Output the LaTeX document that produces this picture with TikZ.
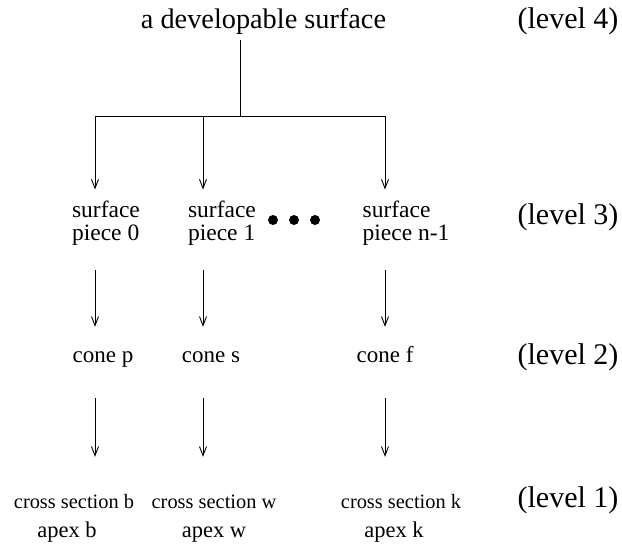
\documentclass[tikz,border=0pt]{standalone}
\usepackage{fontspec}
\setmainfont{Liberation Serif}
\usetikzlibrary{arrows.meta}
\tikzset{
  >={Straight Barb[length=9pt,width=7pt]},
  line/.style={draw=black,line width=0.9pt},
  flow/.style={->,line width=0.9pt},
  head/.style={inner sep=0pt,anchor=base,font=\fontsize{28.3}{30}\selectfont},
  level/.style={inner sep=0pt,anchor=base,font=\fontsize{30}{32}\selectfont},
  piece/.style={inner sep=0pt,align=left,font=\fontsize{23.5}{23}\selectfont},
  cone/.style={inner sep=0pt,anchor=base,text height=16pt,text depth=5pt,
    font=\fontsize{23}{25}\selectfont},
  section/.style={inner sep=0pt,anchor=base,text height=14pt,
    font=\fontsize{20.4}{22}\selectfont},
  apex/.style={inner sep=0pt,anchor=base,font=\fontsize{22.5}{24}\selectfont},
}
\begin{document}
\begin{tikzpicture}[x=1pt,y=-1pt]
  \useasboundingbox (0,0) rectangle (622,544);
  % level 4
  \node[head] (top) at (263.5,28) {a developable surface};
  \node[level] (lv4) at (568,28) {(level 4)};
  % level 3
  \node[piece] (s0) at (106,223) {surface\\piece 0};
  \node[piece] (s1) at (222,223) {surface\\piece 1};
  \node[piece] (s2) at (406,223) {surface\\piece n-1};
  \foreach \x in {273,294,315} \fill (\x,220) circle (5);
  \node[level] (lv3) at (568,224) {(level 3)};
  % level 2
  \node[cone] (c0) at (103,362) {cone p};
  \node[cone] (c1) at (211,362) {cone s};
  \node[cone] (c2) at (385,362) {cone f};
  \node[level] (lv2) at (568,364) {(level 2)};
  % level 1
  \node[section] (x0) at (74,508) {cross section b};
  \node[section] (x1) at (214,508) {cross section w};
  \node[section] (x2) at (401,508) {cross section k};
  \node[apex] (a0) at (67,537) {apex b};
  \node[apex] (a1) at (214,537) {apex w};
  \node[apex] (a2) at (394,537) {apex k};
  \node[level] (lv1) at (568,507) {(level 1)};
  % the tree
  \coordinate (fork) at (240,116);
  \coordinate (b0) at (95,116);
  \coordinate (b1) at (203,116);
  \coordinate (b2) at (385,116);
  \draw[line,shorten <=6pt] (top.south -| fork) -- (fork);
  \draw[line] (b0) -- (b2);
  \foreach \i in {0,1,2} {
    \draw[flow,shorten >=11pt] (b\i) -- (s\i.north -| b\i);
    \draw[flow,shorten <=25pt,shorten >=19pt] (s\i.south -| b\i) -- (c\i.north -| b\i);
    \draw[flow,shorten <=31pt,shorten >=37pt] (c\i.south -| b\i) -- (x\i.north -| b\i);
  }
\end{tikzpicture}
\end{document}
